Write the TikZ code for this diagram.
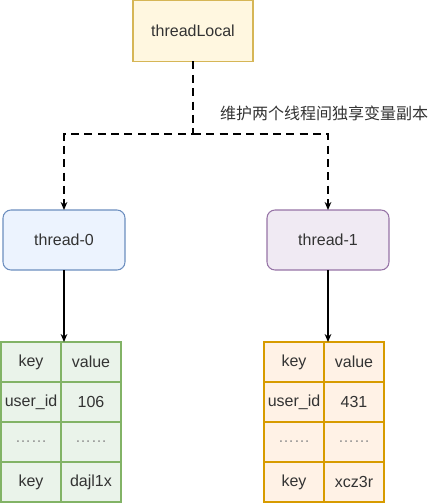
\documentclass[tikz,border=0pt]{standalone}
\usepackage{fontspec}
\setmainfont{Liberation Sans}
\newfontfamily\cjk{Noto Sans CJK SC}
\usetikzlibrary{arrows.meta,positioning}
\definecolor{ylwline}{HTML}{D6B656}
\definecolor{ylwfill}{HTML}{FFF2CC}
\definecolor{bluline}{HTML}{6C8EBF}
\definecolor{blufill}{HTML}{DAE8FC}
\definecolor{purline}{HTML}{9673A6}
\definecolor{purfill}{HTML}{E1D5E7}
\definecolor{grnline}{HTML}{82B366}
\definecolor{grnfill}{HTML}{D5E8D4}
\definecolor{orgline}{HTML}{D79B00}
\definecolor{orgfill}{HTML}{FFE6CC}
\definecolor{txt}{HTML}{333333}
\tikzset{
  basebox/.style={inner sep=0pt,outer sep=0pt,line width=0.8pt,text=txt,
    font=\fontsize{12}{14}\selectfont},
  tlbox/.style={basebox,draw=ylwline,fill=ylwfill!60,minimum width=90pt,minimum height=45.75pt},
  threadbox/.style={basebox,rounded corners=6pt,minimum width=91.5pt,minimum height=45pt},
  cellbox/.style={basebox,minimum width=45pt,minimum height=30pt},
  greencell/.style={cellbox,draw=grnline,fill=grnfill!50},
  orangecell/.style={cellbox,draw=orgline,fill=orgfill!50},
  dotcell/.style={text=txt!55},
  dasharrow/.style={-{Stealth[length=6pt,width=5pt]},line width=1.1pt,dash pattern=on 6pt off 4pt},
  solidarrow/.style={-{Stealth[length=6pt,width=5pt]},line width=0.9pt}
}
\begin{document}
\begin{tikzpicture}[x=0.75pt,y=-0.75pt,node distance=0pt]
  \useasboundingbox (0,0) rectangle (440,503);
  \node[tlbox] (tl) at (193,31) {threadLocal};
  \node[threadbox,draw=bluline,fill=blufill!50] (thread0) at (64,240) {thread-0};
  \node[threadbox,draw=purline,fill=purfill!50] (thread1) at (328,240) {thread-1};
  \coordinate (split) at (193,134);
  \draw[dasharrow] (tl.south) -- (split) -| (thread0.north);
  \draw[dasharrow] (split) -| (thread1.north);
  \node[basebox,anchor=west,font=\cjk\fontsize{12}{14}\selectfont] (note) at (220,113) {维护两个线程间独享变量副本};
  % table of thread-0
  \node[greencell,anchor=north west] (k0a) at (1,342) {key};
  \node[greencell,right=of k0a] (v0a) {value};
  \node[greencell,below=of k0a] (k0b) {user\_id};
  \node[greencell,right=of k0b] (v0b) {106};
  \node[greencell,dotcell,below=of k0b] (k0c) {……};
  \node[greencell,dotcell,right=of k0c] (v0c) {……};
  \node[greencell,below=of k0c] (k0d) {key};
  \node[greencell,right=of k0d] (v0d) {dajl1x};
  % table of thread-1
  \node[orangecell,anchor=north west] (k1a) at (264,342) {key};
  \node[orangecell,right=of k1a] (v1a) {value};
  \node[orangecell,below=of k1a] (k1b) {user\_id};
  \node[orangecell,right=of k1b] (v1b) {431};
  \node[orangecell,dotcell,below=of k1b] (k1c) {……};
  \node[orangecell,dotcell,right=of k1c] (v1c) {……};
  \node[orangecell,below=of k1c] (k1d) {key};
  \node[orangecell,right=of k1d] (v1d) {xcz3r};
  \draw[solidarrow] (thread0.south) -- (thread0.south |- k0a.north);
  \draw[solidarrow] (thread1.south) -- (thread1.south |- k1a.north);
\end{tikzpicture}
\end{document}
